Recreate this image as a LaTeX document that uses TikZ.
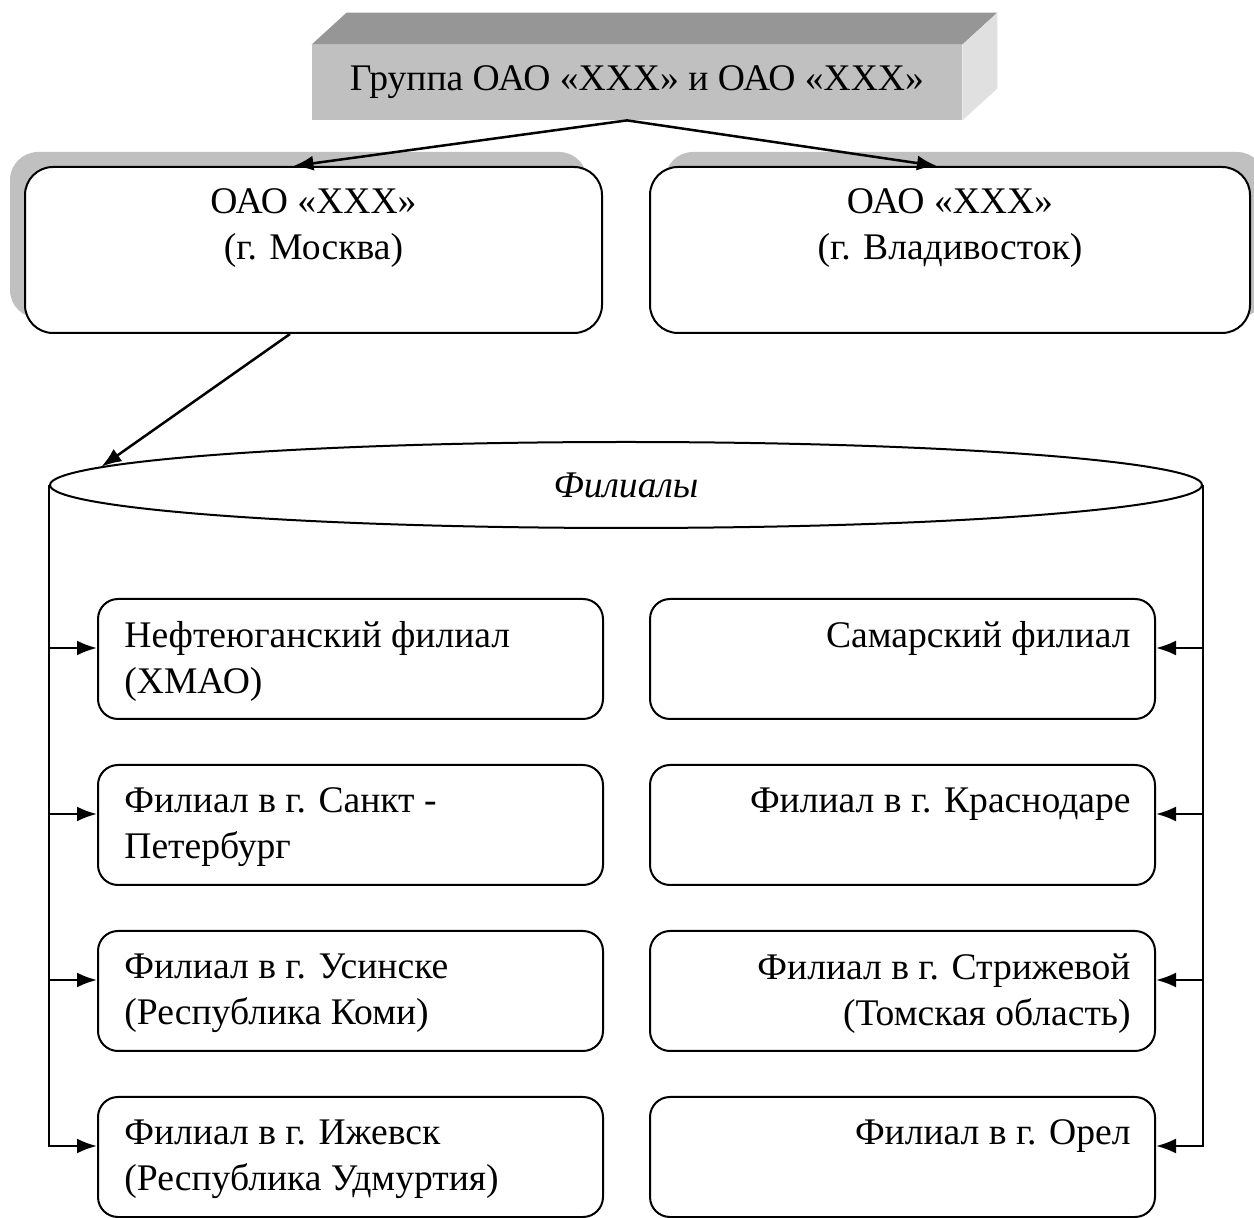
\documentclass[tikz,border=0pt]{standalone}
\usepackage{fontspec}
\setmainfont{Liberation Serif}
\usepackage{tikz}
\usetikzlibrary{arrows.meta,calc,shapes.geometric,shadows}
\definecolor{frontgray}{HTML}{C0C0C0}
\definecolor{topgray}{HTML}{969696}
\definecolor{sidegray}{HTML}{E0E0E0}
\definecolor{shadowgray}{HTML}{C0C0C0}
\tikzset{%
  every company/.style={
    draw,
    fill=white,
    rounded corners=14pt,
    line width=1pt,
    minimum height=83pt,
    inner sep=0pt
  },
  every branch/.style={
    draw,
    rounded corners=10pt,
    line width=1pt,
    minimum width=252.5pt,
    minimum height=60pt,
    inner sep=0pt
  },
  label text/.style={
    inner sep=0pt,
    font=\fontsize{18.8}{23}\selectfont
  },
  link/.style={
    line width=1.25pt,
    -{Latex[length=10pt,width=7.5pt]}
  },
}

\begin{document}
\begin{tikzpicture}[x=0.5pt,y=0.5pt]
  \useasboundingbox (0,0) rectangle (1254,-1218);
  \clip (0,0) rectangle (1254,-1218);

  % group box
  \node[fill=frontgray, minimum width=325pt, minimum height=37.5pt, inner sep=0pt,
        font=\fontsize{18.8}{23}\selectfont] (grp) at (637,-82.5) {Группа ОАО «XXX» и ОАО «XXX»};
  \fill[topgray] (grp.north west) -- ($(grp.north west)+(35,32)$)
    -- ($(grp.north east)+(35,32)$) -- (grp.north east) -- cycle;
  \fill[sidegray] (grp.north east) -- ($(grp.north east)+(35,32)$)
    -- ($(grp.south east)+(35,32)$) -- (grp.south east) -- cycle;

  % companies
  \node[every company, minimum width=288.5pt,
        drop shadow={shadow xshift=-7.5pt, shadow yshift=7.5pt, fill=shadowgray, opacity=1}]
        (msk) at (313.5,-250) {};
  \node[every company, minimum width=300pt,
        drop shadow={shadow xshift=7.5pt, shadow yshift=7.5pt, fill=shadowgray, opacity=1}]
        (vld) at (950,-250) {};
  \node[label text, align=center] (mskT) at ($(msk.center)+(0,22)$) {ОАО «XXX»\\(г. Москва)};
  \node[label text, align=center] (vldT) at ($(vld.center)+(0,22)$) {ОАО «XXX»\\(г. Владивосток)};

  \draw[link] ($(grp.south)+(-10,0)$) -- ($(msk.north)+(-20,0)$);
  \draw[link] ($(grp.south)+(-10,0)$) -- ($(vld.north)+(-13,0)$);

  % branches
  \node[draw, ellipse, line width=1pt, minimum width=576pt, minimum height=43pt, inner sep=0pt]
        (fil) at (626,-485) {};
  \node[label text] (filT) at (fil.center) {\itshape Филиалы};
  \draw[link] ($(msk.south)+(-23.5,0)$) -- (fil.178);

  \foreach \txt [count=\i] in {{Нефтеюганский филиал\\(ХМАО)},
                               {Филиал в г. Санкт -\\Петербург},
                               {Филиал в г. Усинске\\(Республика Коми)},
                               {Филиал в г. Ижевск\\(Республика Удмуртия)}} {
    \node[every branch] (L\i) at (350.5,{-659-166*(\i-1)}) {};
    \node[label text, align=left, anchor=north west] (LT\i) at ($(L\i.north west)+(27,-23)$) {\txt};
    \coordinate (aL\i) at ($(L\i.west)+(0,11)$);
  }
  \foreach \txt [count=\i] in {{Самарский филиал},
                               {Филиал в г. Краснодаре},
                               {Филиал в г. Стрижевой\\(Томская область)},
                               {Филиал в г. Орел}} {
    \node[every branch] (R\i) at (902.5,{-659-166*(\i-1)}) {};
    \node[label text, align=right, anchor=north east] (RT\i) at ($(R\i.north east)+(-25,-23)$) {\txt};
    \coordinate (aR\i) at ($(R\i.east)+(0,11)$);
  }

  \draw[link] (fil.west) |- (aL4);
  \draw[link] (fil.east) |- (aR4);
  \foreach \i in {1,2,3} {
    \draw[link] (fil.west |- aL\i) -- (aL\i);
    \draw[link] (fil.east |- aR\i) -- (aR\i);
  }
\end{tikzpicture}
\end{document}
